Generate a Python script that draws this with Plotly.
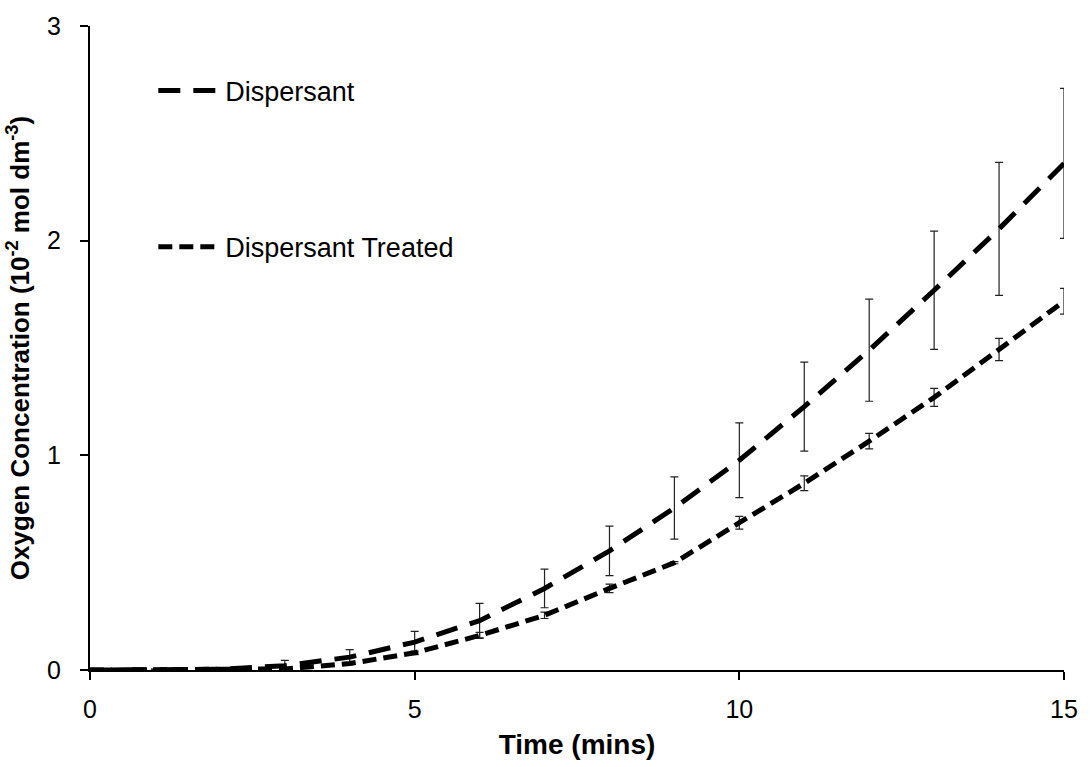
import plotly.graph_objects as go

# Sampling times (minutes)
time_mins = list(range(0, 16))

# Oxygen concentration (10^-2 mol dm^-3) and standard deviations
dispersant = [0.0, 0.004, 0.003, 0.02, 0.06, 0.13, 0.23, 0.38, 0.555, 0.755,
              0.977, 1.227, 1.49, 1.769, 2.055, 2.36]
dispersant_err = [0.0, 0.0, 0.0, 0.025, 0.035, 0.05, 0.08, 0.09, 0.115, 0.145,
                  0.174, 0.207, 0.238, 0.275, 0.31, 0.349]

treated = [0.0, 0.003, 0.002, 0.005, 0.03, 0.08, 0.161, 0.255, 0.38, 0.5,
           0.686, 0.87, 1.066, 1.27, 1.493, 1.718]
treated_err = [0.0, 0.0, 0.0, 0.0, 0.004, 0.008, 0.014, 0.015, 0.02, 0.005,
               0.03, 0.034, 0.036, 0.042, 0.052, 0.06]

x_ticks = [0, 5, 10, 15]
y_ticks = [0, 1, 2, 3]

FONT = "Liberation Sans, Arial, sans-serif"

fig = go.Figure()

fig.add_trace(go.Scatter(
    x=time_mins, y=dispersant, mode="lines", name="Dispersant",
    line=dict(color="black", width=5, dash="22px,13px"),
    error_y=dict(type="data", array=dispersant_err, visible=True,
                 color="#222222", thickness=1.2, width=4),
    legendgroup="a",
))
fig.add_trace(go.Scatter(
    x=time_mins, y=treated, mode="lines", name="Dispersant Treated",
    line=dict(color="black", width=5, dash="14px,7px"),
    error_y=dict(type="data", array=treated_err, visible=True,
                 color="#222222", thickness=1.2, width=4),
    legendgroup="b",
))

fig.update_layout(
    width=1090, height=767,
    paper_bgcolor="white", plot_bgcolor="white",
    margin=dict(l=90, r=19, t=26, b=93),
    font=dict(family=FONT, size=25, color="black"),
    showlegend=True,
    legend=dict(
        x=0.065, y=0.937, xanchor="left", yanchor="top",
        bgcolor="rgba(0,0,0,0)", font=dict(size=27),
        traceorder="grouped", tracegroupgap=118, itemwidth=62,
    ),
    xaxis=dict(
        range=[0, 15], tickvals=x_ticks, showgrid=False, zeroline=False,
        showline=True, linecolor="black", linewidth=2,
        ticks="outside", ticklen=8, tickwidth=2, tickcolor="black",
        ticklabelstandoff=8,
        tickfont=dict(size=25, family=FONT),
        title=dict(text="<b>Time (mins)</b>", font=dict(size=28, family=FONT), standoff=12),
    ),
    yaxis=dict(
        range=[0, 3], tickvals=y_ticks, showgrid=False, zeroline=False,
        showline=True, linecolor="black", linewidth=2,
        ticks="outside", ticklen=8, tickwidth=2, tickcolor="black",
        ticklabelstandoff=14,
        tickfont=dict(size=25, family=FONT),
        title=dict(text="<b>Oxygen Concentration (10<sup>-2</sup> mol dm<sup>-3</sup>)</b>",
                   font=dict(size=26, family=FONT), standoff=10),
    ),
)

fig.write_html("out.html")
